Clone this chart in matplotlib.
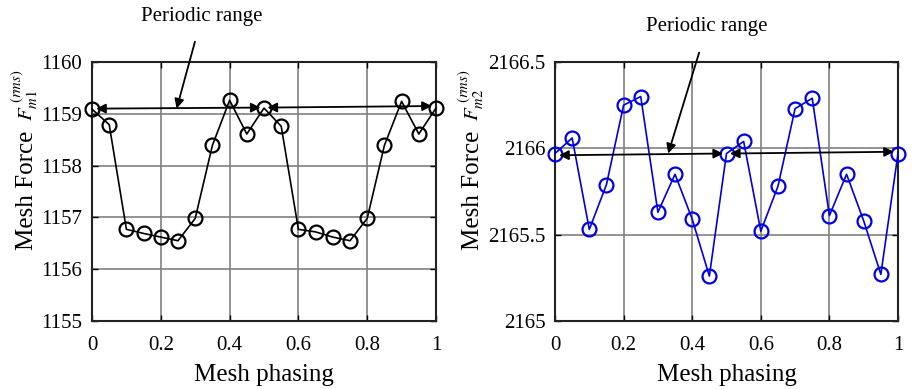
import numpy as np
import matplotlib
matplotlib.use('Agg')
import matplotlib.pyplot as plt

plt.rcParams['font.family'] = ['Liberation Serif', 'DejaVu Serif']
plt.rcParams['mathtext.fontset'] = 'stix'

# Data
phase = [0.0, 0.05, 0.1, 0.15, 0.2, 0.25, 0.3, 0.35, 0.4, 0.45, 0.5,
         0.55, 0.6, 0.65, 0.7, 0.75, 0.8, 0.85, 0.9, 0.95, 1.0]
force_m1 = [1159.09, 1158.79, 1156.77, 1156.69, 1156.62, 1156.55, 1156.98,
            1158.39, 1159.26, 1158.61, 1159.11, 1158.76, 1156.77, 1156.72,
            1156.62, 1156.55, 1156.98, 1158.39, 1159.24, 1158.61, 1159.11]
force_m2 = [2165.97, 2166.06, 2165.53, 2165.79, 2166.25, 2166.30, 2165.63,
            2165.85, 2165.59, 2165.26, 2165.97, 2166.04, 2165.52, 2165.78,
            2166.23, 2166.29, 2165.61, 2165.85, 2165.58, 2165.27, 2165.97]

xticks = [0, 0.2, 0.4, 0.6, 0.8, 1]
xticklabels = ['0', '0.2', '0.4', '0.6', '0.8', '1']

fig = plt.figure(figsize=(9.13, 3.89), dpi=100)
W, H = 913, 389
ax1 = fig.add_axes([92 / W, 1 - 321 / H, 344 / W, 259 / H])
ax2 = fig.add_axes([555 / W, 1 - 321 / H, 343 / W, 259 / H])


def style(ax, ylim, yticks, yticklabels):
    ax.set_xlim(0, 1)
    ax.set_ylim(*ylim)
    ax.set_xticks(xticks)
    ax.set_xticklabels(xticklabels)
    ax.set_yticks(yticks)
    ax.set_yticklabels(yticklabels)
    ax.grid(True, color='#808080', linewidth=1.2)
    ax.set_axisbelow(True)
    ax.tick_params(direction='in', length=4, width=1.0, labelsize=15,
                   top=True, right=True)
    ax.tick_params(axis='x', pad=11)
    ax.tick_params(axis='y', pad=7)
    for s in ax.spines.values():
        s.set_linewidth(1.5)
        s.set_color('#222222')
    ax.set_xlabel('Mesh phasing', fontsize=18, labelpad=6)


def period_arrows(ax, y1, y2, y3):
    kw = dict(arrowstyle='<|-|>', color='black', lw=1.3, mutation_scale=14,
              shrinkA=0, shrinkB=0)
    ax.annotate('', xy=(0.012, y1), xytext=(0.49, y2), arrowprops=kw)
    ax.annotate('', xy=(0.51, y2), xytext=(0.988, y3), arrowprops=kw)


# Left panel
ax1.plot(phase, force_m1, '-o', color='black', lw=1.2, ms=10,
         mfc='none', mew=1.6, clip_on=False, zorder=3)
style(ax1, (1155, 1160), [1155, 1156, 1157, 1158, 1159, 1160],
      ['1155', '1156', '1157', '1158', '1159', '1160'])
period_arrows(ax1, 1159.1, 1159.12, 1159.15)
ax1.annotate('Periodic range', xy=(0.246, 1159.1), xycoords='data',
             xytext=(202 / W, 1 - 16 / H), textcoords='figure fraction',
             ha='center', va='center', fontsize=15,
             arrowprops=dict(arrowstyle='-|>', color='black', lw=1.3,
                             mutation_scale=14, shrinkA=10, shrinkB=0))

# Right panel
ax2.plot(phase, force_m2, '-o', color='#0000e0', lw=1.2, ms=10,
         mfc='none', mew=1.6, clip_on=False, zorder=3)
style(ax2, (2165, 2166.5), [2165, 2165.5, 2166, 2166.5],
      ['2165', '2165.5', '2166', '2166.5'])
period_arrows(ax2, 2165.96, 2165.97, 2165.98)
ax2.annotate('Periodic range', xy=(0.33, 2165.97), xycoords='data',
             xytext=(707 / W, 1 - 27 / H), textcoords='figure fraction',
             ha='center', va='center', fontsize=15,
             arrowprops=dict(arrowstyle='-|>', color='black', lw=1.3,
                             mutation_scale=14, shrinkA=10, shrinkB=0))

# Y labels: big "Mesh Force" plus small italic symbol, sharing one baseline
for xb, sym in [(33, r'$F_{m1}^{\ (rms)}$'), (479, r'$F_{m2}^{\ (rms)}$')]:
    fig.text(xb / W, 1 - 190 / H, 'Mesh Force', rotation=90, fontsize=18,
             ha='center', va='baseline', rotation_mode='anchor')
    fig.text(xb / W, 1 - 95 / H, sym, rotation=90, fontsize=15,
             ha='center', va='baseline', rotation_mode='anchor')

fig.savefig('out.png', dpi=100)
